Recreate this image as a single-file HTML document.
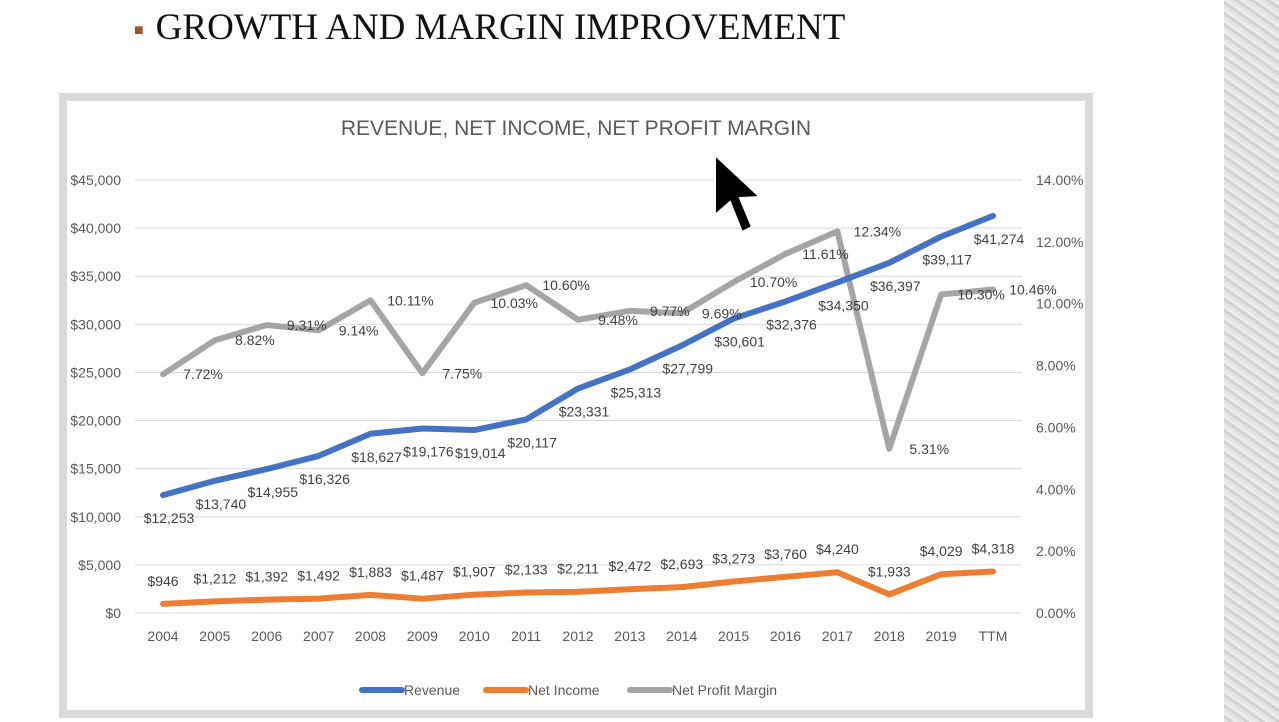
<!DOCTYPE html>
<html><head><meta charset="utf-8"><style>
body{margin:0;width:1279px;height:722px;background:#fff;overflow:hidden;position:relative;font-family:"Liberation Sans",sans-serif}
#title{position:absolute;left:134px;top:6px;font-family:"Liberation Serif",serif;font-size:37px;color:#111;letter-spacing:0px}
#title span{color:#a0522d;font-size:16px;vertical-align:middle;margin-right:12px}
#strip{position:absolute;left:1224px;top:0;width:55px;height:722px;background:repeating-linear-gradient(35deg,#e4e4e4 0 3px,#d2d2d2 3px 6px,#ececec 6px 9px)}
#frame{position:absolute;left:59px;top:93px;width:1018px;height:609px;border:8px solid #d9d9d9;background:#fff}
svg{position:absolute;left:0;top:0}
</style></head><body>
<div id="title"><span>■</span>GROWTH AND MARGIN IMPROVEMENT</div>
<div id="strip"></div>
<div id="frame"></div>
<svg id="chart" width="1279" height="722" font-family="Liberation Sans, sans-serif"></svg>
<script>
const categories=["2004","2005","2006","2007","2008","2009","2010","2011","2012","2013","2014","2015","2016","2017","2018","2019","TTM"];
const revenue=[12253,13740,14955,16326,18627,19176,19014,20117,23331,25313,27799,30601,32376,34350,36397,39117,41274];
const netIncome=[946,1212,1392,1492,1883,1487,1907,2133,2211,2472,2693,3273,3760,4240,1933,4029,4318];
const margin=[7.72,8.82,9.31,9.14,10.11,7.75,10.03,10.60,9.48,9.77,9.69,10.70,11.61,12.34,5.31,10.30,10.46];
const leftTicks=[0,5000,10000,15000,20000,25000,30000,35000,40000,45000];
const rightTicks=[0,2,4,6,8,10,12,14];
const svg=document.getElementById('chart');const NS='http://www.w3.org/2000/svg';
const x=i=>163+i*(993-163)/(categories.length-1);
const yL=v=>613-v/45000*433;
const yR=v=>613-v/14*433;
function el(t,a,txt){const e=document.createElementNS(NS,t);for(const k in a)e.setAttribute(k,a[k]);if(txt!=null)e.textContent=txt;svg.appendChild(e);return e;}
const fmt=v=>'$'+v.toLocaleString('en-US');
leftTicks.forEach(v=>{
 const g=el('line',{x1:135,x2:1022,y1:yL(v),y2:yL(v),stroke:'#d9d9d9','stroke-width':1});
 
 const t=el('text',{x:121,y:yL(v)+5,'text-anchor':'end','font-size':14,fill:'#595959'},fmt(v));
 
});
rightTicks.forEach(v=>{
 const t=el('text',{x:1036,y:yR(v)+5,'font-size':14,fill:'#595959'},v.toFixed(2)+'%');
 
});
categories.forEach((c,i)=>{
 const t=el('text',{x:x(i),y:641,'text-anchor':'middle','font-size':14,fill:'#595959'},c);
 
});
const tt=el('text',{x:576,y:135,'text-anchor':'middle','font-size':21,fill:'#595959'},'REVENUE, NET INCOME, NET PROFIT MARGIN');

function series(vals,yf,color,name){
 const p=el('polyline',{points:vals.map((v,i)=>x(i)+','+yf(v)).join(' '),fill:'none',stroke:color,'stroke-width':6,'stroke-linejoin':'round','stroke-linecap':'round'});
 
}
series(margin,yR,'#a5a5a5','net-profit-margin-line');
series(revenue,yL,'#4472c4','revenue-line');
series(netIncome,yL,'#ed7d31','net-income-line');
revenue.forEach((v,i)=>{const t=el('text',{x:x(i)+6,y:yL(v)+28,'text-anchor':'middle','font-size':14,fill:'#404040'},fmt(v));
 });
netIncome.forEach((v,i)=>{const t=el('text',{x:x(i),y:yL(v)-18,'text-anchor':'middle','font-size':14,fill:'#404040'},fmt(v));
 });
margin.forEach((v,i)=>{const t=el('text',{x:x(i)+40,y:yR(v)+5,'text-anchor':'middle','font-size':14,fill:'#404040'},v.toFixed(2)+'%');
 });
const leg=[['Revenue','#4472c4',362],['Net Income','#ed7d31',486],['Net Profit Margin','#a5a5a5',630]];
leg.forEach(([n,c,lx])=>{
 const l=el('line',{x1:lx,x2:lx+40,y1:690,y2:690,stroke:c,'stroke-width':6,'stroke-linecap':'round'});
 
 const t=el('text',{x:lx+42,y:695,'font-size':14,fill:'#595959'},n);
 
});
const cur=el('path',{d:'M715 155 L715 215 L730 202 L742 232 L752 227 L740 198 L760 197 Z',fill:'#000',stroke:'#fff','stroke-width':2});

</script>
</body></html>
